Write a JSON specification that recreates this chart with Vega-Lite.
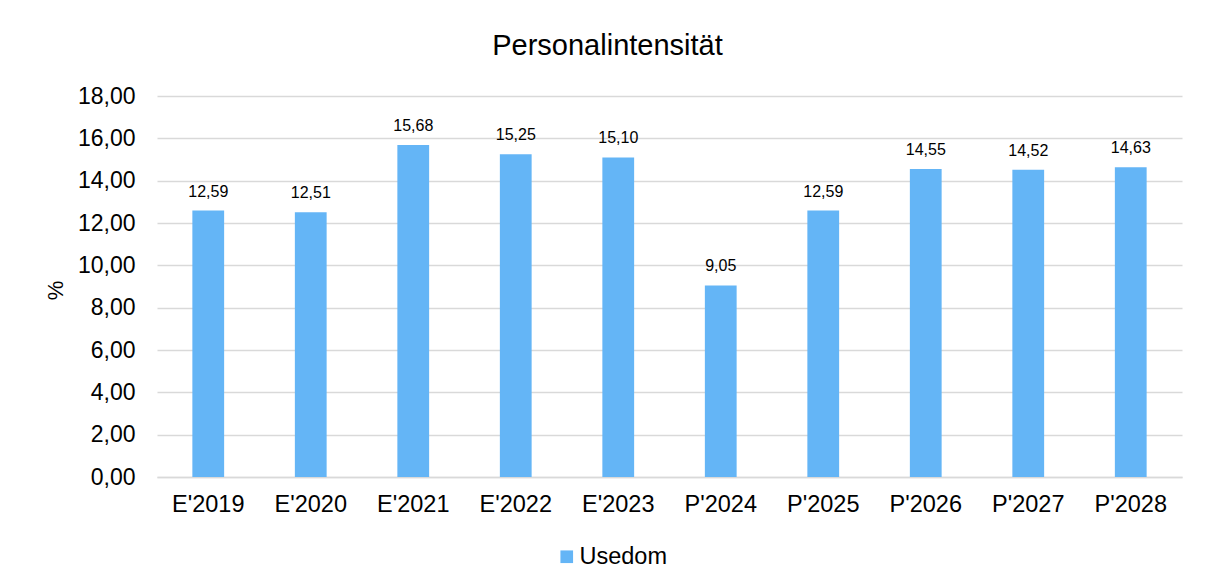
{
  "$schema": "https://vega.github.io/schema/vega-lite/v6.json",
  "width": 1025,
  "height": 381,
  "autosize": {"type": "none"},
  "padding": {"left": 157, "top": 96, "right": 23, "bottom": 111},
  "background": "white",
  "config": {
    "font": "Liberation Sans",
    "view": {"stroke": null},
    "locale": {"number": {"decimal": ",", "thousands": ".", "grouping": [3], "currency": ["", " €"]}}
  },
  "title": {
    "text": "Personalintensität",
    "fontSize": 29,
    "fontWeight": "normal",
    "color": "#000000",
    "anchor": "middle",
    "dx": -62,
    "offset": 24
  },
  "data": {
    "values": [
      {"jahr": "E'2019", "wert": 12.59, "serie": "Usedom"},
      {"jahr": "E'2020", "wert": 12.51, "serie": "Usedom"},
      {"jahr": "E'2021", "wert": 15.68, "serie": "Usedom"},
      {"jahr": "E'2022", "wert": 15.25, "serie": "Usedom"},
      {"jahr": "E'2023", "wert": 15.10, "serie": "Usedom"},
      {"jahr": "P'2024", "wert": 9.05, "serie": "Usedom"},
      {"jahr": "P'2025", "wert": 12.59, "serie": "Usedom"},
      {"jahr": "P'2026", "wert": 14.55, "serie": "Usedom"},
      {"jahr": "P'2027", "wert": 14.52, "serie": "Usedom"},
      {"jahr": "P'2028", "wert": 14.63, "serie": "Usedom"}
    ]
  },
  "encoding": {
    "x": {
      "field": "jahr",
      "type": "nominal",
      "sort": null,
      "scale": {"paddingInner": 0.69, "paddingOuter": 0.345},
      "axis": {
        "title": null,
        "labelAngle": 0,
        "labelFontSize": 23.5,
        "labelColor": "#000000",
        "labelPadding": 15,
        "ticks": false,
        "domainColor": "#d9d9d9",
        "domainWidth": 1.5,
        "grid": false
      }
    },
    "y": {
      "field": "wert",
      "type": "quantitative",
      "scale": {"domain": [0, 18]},
      "axis": {
        "title": "%",
        "titleFontSize": 22,
        "titleFontWeight": "normal",
        "titleColor": "#000000",
        "titleAngle": -90,
        "titleX": -102,
        "titleY": 194,
        "titleAlign": "center",
        "titleBaseline": "middle",
        "values": [0, 2, 4, 6, 8, 10, 12, 14, 16, 18],
        "format": ".2f",
        "labelFontSize": 23,
        "labelColor": "#000000",
        "labelPadding": 22,
        "ticks": false,
        "domain": false,
        "gridColor": "#d9d9d9",
        "gridWidth": 1.5
      }
    }
  },
  "layer": [
    {
      "mark": {"type": "bar", "color": "#64B5F6"},
      "encoding": {
        "color": {
          "field": "serie",
          "type": "nominal",
          "scale": {"range": ["#64B5F6"]},
          "legend": {
            "title": null,
            "orient": "none",
            "legendX": 398,
            "legendY": 449,
            "symbolType": "square",
            "symbolSize": 160,
            "symbolStrokeWidth": 0,
            "labelFontSize": 23.5,
            "labelColor": "#000000",
            "labelOffset": 1
          }
        }
      }
    },
    {
      "mark": {"type": "text", "fontSize": 16, "color": "#000000", "baseline": "alphabetic", "dy": -14},
      "encoding": {
        "text": {"field": "wert", "type": "quantitative", "format": ".2f"}
      }
    }
  ]
}
